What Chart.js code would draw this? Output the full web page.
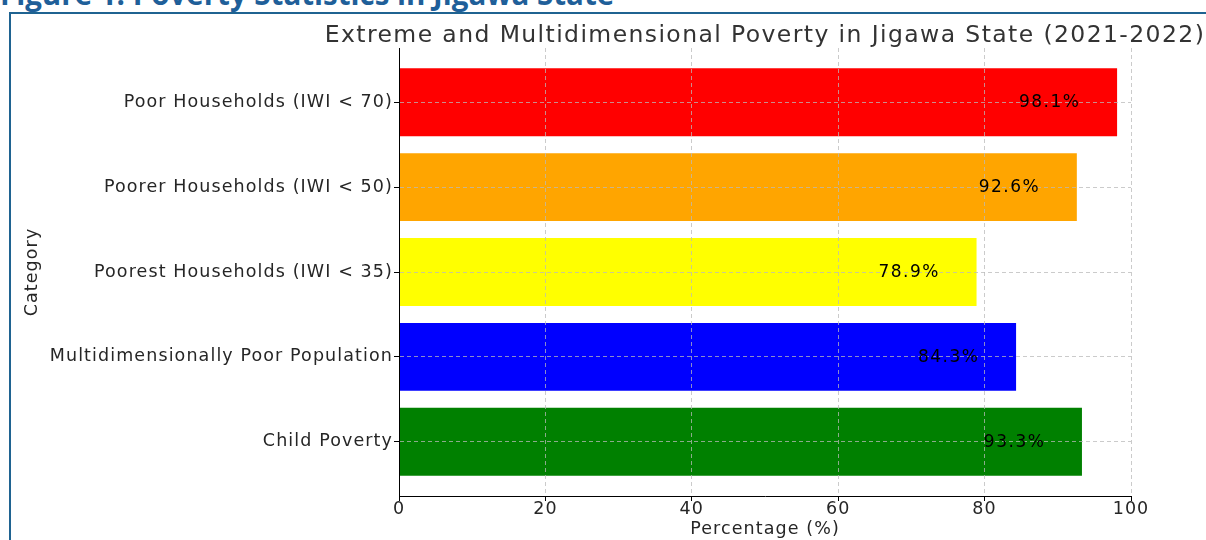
<!DOCTYPE html>
<html>
<head>
<meta charset="utf-8">
<script src="https://cdn.jsdelivr.net/npm/chart.js@4/dist/chart.umd.min.js"></script>
<style>
  html, body { margin: 0; padding: 0; background: #fff; overflow: hidden; }
  #wrap { position: relative; width: 1206px; height: 540px; overflow: hidden; }
  #heading {
    position: absolute; left: 0px; top: -21px; margin: 0;
    font: bold 29.5px/29px "Open Sans", "Liberation Sans", sans-serif;
    color: #1f5f99; white-space: nowrap;
  }
  #frame {
    position: absolute; left: 9px; top: 12px; width: 1300px; height: 600px;
    border-left: 2px solid #1f6391; border-top: 2px solid #1f6391;
  }
  #chart { position: absolute; left: 0; top: 0; }
</style>
</head>
<body>
<div id="wrap">
  <div id="heading">Figure 1: Poverty Statistics in Jigawa State</div>
  <div id="frame"></div>
  <canvas id="chart" width="1206" height="540"></canvas>
</div>
<script>
// Poverty indicators for Jigawa State, 2021-2022 (percent)
const categories = [
  "Poor Households (IWI < 70)",
  "Poorer Households (IWI < 50)",
  "Poorest Households (IWI < 35)",
  "Multidimensionally Poor Population",
  "Child Poverty"
];
const percentages = [98.1, 92.6, 78.9, 84.3, 93.3];
const barColors = ["#ff0000", "#ffa500", "#ffff00", "#0000ff", "#008000"];
const xTicks = [0, 20, 40, 60, 80, 100];

const chartTitle = "Extreme and Multidimensional Poverty in Jigawa State (2021-2022)";
const FONT = "'DejaVu Sans', sans-serif";
const LABEL_SPACING = "1.1px";

// Wide lettering for every label the chart draws
const spacing = {
  id: "spacing",
  beforeUpdate(chart) { chart.ctx.letterSpacing = LABEL_SPACING; },
  beforeDraw(chart) { chart.ctx.letterSpacing = LABEL_SPACING; }
};

// Title centred over the plot area, plus value labels inside each bar
const annotate = {
  id: "annotate",
  afterDraw(chart) {
    const ctx = chart.ctx;
    const area = chart.chartArea;
    const xs = chart.scales.x, ys = chart.scales.y;
    ctx.save();
    ctx.fillStyle = "#333";
    ctx.font = "23.5px " + FONT;
    ctx.letterSpacing = "1.4px";
    ctx.textAlign = "center";
    ctx.textBaseline = "alphabetic";
    ctx.fillText(chartTitle, (area.left + area.right) / 2, 42);

    ctx.fillStyle = "#000";
    ctx.font = "17px " + FONT;
    ctx.letterSpacing = "1.5px";
    ctx.textAlign = "right";
    percentages.forEach((v, i) => {
      ctx.fillText(v.toFixed(1) + "%", xs.getPixelForValue(v - 5), ys.getPixelForValue(i) + 5);
    });
    ctx.restore();
  }
};

// Dashed grid sits above the bars; axis lines above the grid
const gridStyle = {
  color: "rgba(185,185,185,0.75)",
  lineWidth: 1,
  z: 1,
  offset: false,
  tickColor: "#000",
  tickLength: 5,
  tickWidth: 1
};
const axisBorder = { display: true, color: "#000", width: 1, dash: [4, 3], z: 2 };

new Chart(document.getElementById("chart"), {
  type: "bar",
  data: {
    datasets: [{
      data: percentages.map((v, i) => ({ x: v, y: i })),
      backgroundColor: barColors,
      borderWidth: 0,
      categoryPercentage: 1.0,
      barPercentage: 0.8
    }]
  },
  options: {
    indexAxis: "y",
    responsive: false,
    animation: false,
    layout: { padding: { left: 0, right: 75, top: 48, bottom: 0 } },
    plugins: { legend: { display: false }, tooltip: { enabled: false }, title: { display: false } },
    scales: {
      x: {
        type: "linear",
        min: 0, max: 100,
        offset: false,
        afterBuildTicks: (s) => { s.ticks = xTicks.map(v => ({ value: v })); },
        afterFit: (s) => { s.height = 44; },
        grid: gridStyle,
        border: axisBorder,
        ticks: { color: "#262626", font: { family: FONT, size: 17.5 }, padding: -2 },
        title: { display: true, text: "Percentage (%)", color: "#262626",
                 font: { family: FONT, size: 17.5 }, padding: { top: 0, bottom: 0 } }
      },
      y: {
        type: "linear",
        reverse: true,
        offset: false,
        min: -0.64, max: 4.64,
        afterBuildTicks: (s) => { s.ticks = categories.map((c, i) => ({ value: i })); },
        afterFit: (s) => { s.width = 399; },
        grid: gridStyle,
        border: axisBorder,
        ticks: {
          color: "#262626", font: { family: FONT, size: 17.5 }, padding: 1,
          callback: (v) => categories[v] ?? ""
        },
        title: { display: true, text: "Category", color: "#262626",
                 font: { family: FONT, size: 17.5 }, padding: { top: 22, bottom: 0 } }
      }
    }
  },
  plugins: [spacing, annotate]
});
</script>
</body>
</html>
